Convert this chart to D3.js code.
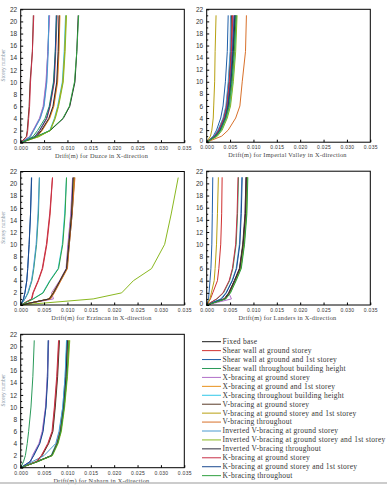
<!DOCTYPE html>
<html lang="en">
<head>
  <meta charset="UTF-8">
  <title>Storey drift</title>
  <script src="https://d3js.org/d3.v7.min.js"></script>
  <style>
    body { margin: 0; background: #fff; }
    svg { font-family: "Liberation Serif", "DejaVu Serif", serif; }
    .series { fill: none; stroke-width: 1; }
    .tick text { fill: #333; }
    .frame { fill: none; stroke: #000; stroke-width: 1; }
  </style>
</head>
<body>
<script>
  var storeys = [0, 1, 2, 4, 6, 10, 15, 21];

  var seriesNames = [
    "Fixed base",
    "Shear wall at ground storey",
    "Shear wall at ground and 1st storey",
    "Shear wall throughout building height",
    "X-bracing at ground storey",
    "X-bracing at ground and 1st storey",
    "X-bracing throughout building height",
    "V-bracing at ground storey",
    "V-bracing at ground storey and 1st storey",
    "V-bracing throughout",
    "Inverted V-bracing at ground storey",
    "Inverted V-bracing at ground storey and 1st storey",
    "Inverted V-bracing throughout",
    "K-bracing at ground storey",
    "K-bracing at ground storey and 1st storey",
    "K-bracing throughout"
  ];

  var seriesColors = ["#1a1a1a", "#d03030", "#1f5fa8", "#2a9a5a", "#b070c8", "#e8901a",
    "#30c8e8", "#5a3a28", "#b8a010", "#d8702a", "#4a9ad0", "#8ab820",
    "#2a2a3a", "#c83048", "#1a4a90", "#30a040"];

  // drift in mm (x 0.001 m), one row per series, at the storey levels above
  var duzce = [
    [0, 3.4, 6.3, 9.1, 10.5, 11.6, 12.0, 12.3],
    [0, 3.1, 4.1, 5.6, 6.3, 7.2, 7.5, 7.8],
    [0, 2.0, 2.7, 4.1, 4.9, 5.5, 5.8, 6.1],
    [0, 2.6, 3.6, 5.2, 6.1, 7.0, 7.4, 7.7],
    [0, 1.9, 2.6, 4.0, 4.8, 5.4, 5.8, 6.2],
    [0, 3.5, 4.6, 6.2, 7.1, 7.9, 8.2, 8.4],
    [0, 3.7, 6.2, 7.2, 7.9, 8.9, 9.3, 9.6],
    [0, 1.2, 1.4, 1.6, 1.8, 2.0, 2.5, 2.7],
    [0, 3.8, 6.3, 7.3, 8.0, 9.0, 9.4, 9.7],
    [0, 3.4, 4.5, 6.1, 7.0, 7.8, 8.1, 8.3],
    [0, 2.1, 2.8, 4.2, 5.0, 5.6, 5.9, 6.0],
    [0, 3.9, 6.3, 7.4, 8.1, 9.1, 9.5, 9.8],
    [0, 3.3, 4.4, 6.0, 6.9, 7.7, 8.0, 8.2],
    [0, 1.3, 1.5, 1.7, 1.9, 2.1, 2.5, 2.8],
    [0, 3.0, 4.0, 5.5, 6.2, 7.1, 7.4, 7.6],
    [0, 3.3, 6.2, 9.0, 10.4, 11.5, 12.0, 12.4]
  ];

  var imperialValley = [
    [0, 1.9, 2.8, 3.9, 4.5, 5.1, 5.6, 6.0],
    [0, 1.7, 2.6, 3.7, 4.3, 4.8, 5.2, 5.5],
    [0, 1.4, 2.1, 3.0, 3.5, 4.0, 4.4, 4.6],
    [0, 2.0, 3.0, 4.1, 4.7, 5.3, 5.8, 6.2],
    [0, 1.8, 2.7, 3.8, 4.4, 5.0, 5.4, 5.8],
    [0, 2.1, 3.1, 4.2, 4.9, 5.5, 6.0, 6.4],
    [0, 2.2, 3.2, 4.3, 5.0, 5.6, 6.1, 6.3],
    [0, 1.6, 2.5, 3.6, 4.2, 4.7, 5.1, 5.3],
    [0, 0.8, 1.1, 1.4, 1.5, 1.7, 1.8, 2.0],
    [0, 3.2, 4.6, 6.2, 7.1, 7.6, 8.3, 8.5],
    [0, 1.5, 2.4, 3.5, 4.1, 4.6, 5.0, 5.1],
    [0, 2.3, 3.3, 4.4, 5.1, 5.7, 6.2, 6.5],
    [0, 1.9, 2.9, 4.0, 4.6, 5.2, 5.7, 6.1],
    [0, 1.7, 2.6, 3.7, 4.3, 4.9, 5.3, 5.6],
    [0, 1.8, 2.8, 3.9, 4.5, 5.1, 5.5, 5.9],
    [0, 2.0, 3.0, 4.1, 4.8, 5.4, 5.9, 6.3]
  ];

  var erzincan = [
    [0, 6.3, 7.0, 8.4, 9.8, 10.2, 10.8, 11.3],
    [0, 2.4, 2.7, 3.8, 4.7, 5.6, 6.3, 6.8],
    [0, 0.6, 0.9, 1.3, 1.5, 1.8, 2.1, 2.35],
    [0, 0.9, 1.6, 2.4, 2.8, 3.4, 3.8, 4.0],
    [0, 7.0, 6.6, 8.3, 9.7, 10.1, 10.7, 11.1],
    [0, 6.0, 6.9, 8.4, 9.8, 10.3, 10.9, 11.4],
    [0, 2.6, 4.7, 6.2, 8.0, 8.9, 9.4, 9.8],
    [0, 6.2, 7.1, 8.5, 9.9, 10.4, 11.0, 11.5],
    [0, 6.2, 7.0, 8.5, 9.9, 10.3, 10.9, 11.4],
    [0, 6.4, 7.2, 8.6, 10.0, 10.4, 11.0, 11.6],
    [0, 0.9, 1.5, 2.3, 2.7, 3.3, 3.7, 4.0],
    [0, 15.5, 21.6, 24.1, 28.0, 30.8, 32.2, 33.7],
    [0, 6.1, 7.0, 8.4, 9.8, 10.3, 10.9, 11.2],
    [0, 2.3, 2.6, 3.7, 4.6, 5.5, 6.2, 6.8],
    [0, 0.6, 0.9, 1.3, 1.5, 1.8, 2.1, 2.3],
    [0, 2.7, 4.8, 6.3, 8.1, 9.0, 9.5, 9.8]
  ];

  var landers = [
    [0, 3.8, 4.8, 6.0, 7.1, 7.8, 8.3, 8.5],
    [0, 0.8, 1.3, 2.3, 2.6, 3.0, 3.2, 3.3],
    [0, 0.4, 0.5, 0.7, 0.9, 1.1, 1.2, 1.3],
    [0, 2.2, 3.6, 4.9, 5.6, 6.3, 6.6, 6.8],
    [0, 5.3, 4.7, 5.9, 7.0, 7.8, 8.2, 8.4],
    [0, 3.9, 4.9, 6.1, 7.2, 7.9, 8.4, 8.6],
    [0, 4.0, 5.0, 6.2, 7.3, 8.0, 8.5, 8.7],
    [0, 3.7, 4.7, 5.9, 7.0, 7.7, 8.2, 8.4],
    [0, 0.7, 1.0, 1.6, 1.8, 2.1, 2.3, 2.5],
    [0, 3.8, 4.9, 6.1, 7.2, 7.9, 8.4, 8.6],
    [0, 3.0, 4.1, 5.4, 6.3, 7.0, 7.3, 7.5],
    [0, 4.0, 5.0, 6.2, 7.3, 8.0, 8.5, 8.7],
    [0, 3.9, 4.8, 6.0, 7.1, 7.8, 8.3, 8.5],
    [0, 2.1, 3.5, 4.8, 5.5, 6.2, 6.5, 6.7],
    [0, 3.2, 4.2, 5.5, 6.4, 7.1, 7.4, 7.6],
    [0, 4.1, 5.1, 6.3, 7.4, 8.1, 8.6, 8.8]
  ];

  var naharn = [
    [0, 3.4, 6.6, 7.7, 8.4, 9.1, 9.6, 9.9],
    [0, 3.4, 4.5, 5.9, 6.8, 7.3, 7.8, 8.2],
    [0, 2.0, 2.7, 4.0, 4.7, 5.4, 5.7, 5.9],
    [0, 0.6, 1.0, 1.4, 1.7, 2.2, 2.6, 2.9],
    [0, 2.2, 2.5, 3.9, 4.6, 5.3, 5.7, 6.0],
    [0, 3.5, 6.7, 7.8, 8.5, 9.2, 9.8, 10.2],
    [0, 3.6, 6.5, 7.6, 8.3, 9.0, 9.5, 9.8],
    [0, 3.5, 4.6, 6.0, 6.9, 7.4, 7.9, 8.3],
    [0, 3.6, 6.6, 7.9, 8.6, 9.3, 9.9, 10.4],
    [0, 3.4, 6.6, 7.7, 8.4, 9.2, 9.7, 10.1],
    [0, 2.5, 5.0, 7.5, 8.2, 9.0, 9.5, 9.9],
    [0, 3.7, 6.8, 8.0, 8.7, 9.4, 10.0, 10.5],
    [0, 3.5, 6.6, 7.8, 8.5, 9.2, 9.7, 10.0],
    [0, 3.3, 4.4, 5.8, 6.7, 7.2, 7.7, 8.1],
    [0, 2.0, 2.8, 4.1, 4.8, 5.4, 5.8, 5.9],
    [0, 3.5, 6.7, 7.9, 8.6, 9.3, 9.9, 10.3]
  ];

  var xTicks = [0, 0.005, 0.010, 0.015, 0.020, 0.025, 0.030, 0.035];
  var yTicks = [0, 2, 4, 6, 8, 10, 12, 14, 16, 18, 20, 22];

  var panels = [
    {name: "Duzce", data: duzce, left: 20.7, top: 9.3, bottom: 142.7, yLabel: true},
    {name: "Imperial Valley", data: imperialValley, left: 206.7, top: 9.3, bottom: 142.2, yLabel: false},
    {name: "Erzincan", data: erzincan, left: 20.7, top: 171.5, bottom: 305, yLabel: true},
    {name: "Landers", data: landers, left: 206.7, top: 171.2, bottom: 305, yLabel: false},
    {name: "Naharn", data: naharn, left: 20.7, top: 334.3, bottom: 467.7, yLabel: true}
  ];
  var plotW = 163.6;

  var svg = d3.select("body").append("svg")
    .attr("width", 387)
    .attr("height", 485);

  panels.forEach(function(p) {
    var x = d3.scaleLinear().domain([0, 0.035]).range([p.left, p.left + plotW]);
    var y = d3.scaleLinear().domain([0, 22]).range([p.bottom, p.top]);

    var g = svg.append("g");

    var line = d3.line()
      .x(function(d) { return x(d / 1000); })
      .y(function(d, i) { return y(storeys[i]); });

    p.data.forEach(function(s, i) {
      g.append("path")
        .datum(s)
        .attr("class", "series")
        .attr("stroke", seriesColors[i])
        .attr("d", line);
    });

    g.append("rect")
      .attr("class", "frame")
      .attr("x", p.left).attr("y", p.top)
      .attr("width", plotW).attr("height", p.bottom - p.top);

    var xAxis = g.append("g")
      .attr("transform", "translate(0," + p.bottom + ")")
      .call(d3.axisBottom(x).tickValues(xTicks).tickFormat(d3.format(".3f"))
        .tickSize(-2.5).tickPadding(3.5));
    xAxis.select(".domain").remove();
    xAxis.selectAll("text").attr("font-size", 5).attr("letter-spacing", 0.3);

    var yAxis = g.append("g")
      .attr("transform", "translate(" + p.left + ",0)")
      .call(d3.axisLeft(y).tickValues(yTicks).tickSize(-2.5).tickPadding(3.5));
    yAxis.select(".domain").remove();
    yAxis.selectAll("text").attr("font-size", 6.5)
      .attr("dy", function(d) { return d === 0 ? "0.1em" : "0.32em"; });

    g.append("g")
      .attr("transform", "translate(" + p.left + ",0)")
      .call(d3.axisLeft(y).tickValues(d3.range(1, 22, 2)).tickSize(-1.5).tickFormat(""))
      .select(".domain").remove();

    g.append("text")
      .attr("x", p.left + plotW / 2 - 1)
      .attr("y", p.bottom + 15)
      .attr("text-anchor", "middle")
      .attr("font-size", 6.3)
      .attr("letter-spacing", 0.25)
      .attr("fill", "#444")
      .text("Drift(m) for " + p.name + " in X-direction");

    if (p.yLabel) {
      g.append("text")
        .attr("transform", "translate(5," + (p.top + (p.bottom - p.top) * 0.42) + ") rotate(-90)")
        .attr("text-anchor", "middle")
        .attr("font-size", 5.5)
        .attr("fill", "#8090a0")
        .text("Storey number");
    }
  });

  // legend
  var legend = svg.append("g");
  seriesNames.forEach(function(name, i) {
    var ly = 341.7 + i * 8.93;
    legend.append("line")
      .attr("x1", 202).attr("x2", 221)
      .attr("y1", ly).attr("y2", ly)
      .attr("stroke", seriesColors[i])
      .attr("stroke-width", 1);
    legend.append("text")
      .attr("x", 222.5)
      .attr("y", ly + 2.4)
      .attr("font-size", 7.5)
      .attr("letter-spacing", 0.25)
      .attr("fill", "#333")
      .text(name);
  });

  svg.append("line")
    .attr("x1", 0).attr("x2", 387)
    .attr("y1", 483).attr("y2", 483)
    .attr("stroke", "#bbb")
    .attr("stroke-width", 1.5);
</script>
</body>
</html>
